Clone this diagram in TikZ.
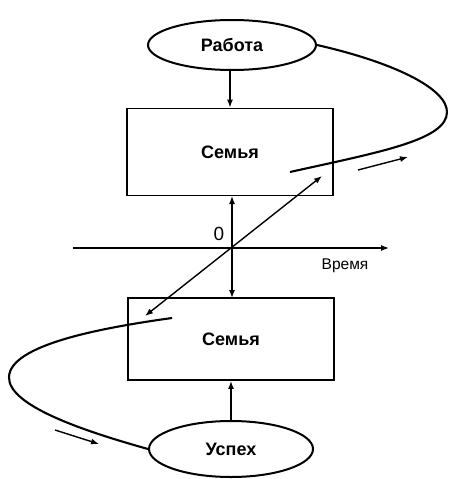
\documentclass[tikz,border=0pt]{standalone}
\usepackage{fontspec}
\setmainfont{Liberation Sans}
\usetikzlibrary{shapes.geometric,arrows.meta}
\tikzset{
  oval/.style={ellipse, draw, line width=2pt, font=\bfseries\fontsize{18}{20}\selectfont, inner sep=0pt},
  famblock/.style={rectangle, draw, line width=1.8pt, font=\bfseries\fontsize{18}{20}\selectfont, inner sep=0pt},
  conn/.style={line width=1.4pt, -{Latex[length=8pt,width=6pt]}},
  dconn/.style={line width=1.4pt, {Latex[length=8pt,width=6pt]}-{Latex[length=8pt,width=6pt]}},
  loopcurve/.style={line width=2.1pt},
}
\begin{document}
\begin{tikzpicture}[x=1pt,y=-1pt]
\useasboundingbox (0,0) rectangle (450,479);
\node[oval, minimum width=168pt, minimum height=50pt] (rab) at (232,45) {Работа};
\node[famblock, minimum width=206pt, minimum height=87pt] (s1) at (230,152) {Семья};
\node[famblock, minimum width=206pt, minimum height=82pt] (s2) at (231,339) {Семья};
\node[oval, minimum width=164pt, minimum height=56pt] (usp) at (231,449) {Успех};
\coordinate (a1) at (73,248);
\coordinate (a2) at (389,248);
\node[font=\fontsize{19}{21}\selectfont, inner sep=0pt] (zero) at (219,234) {0};
\node[font=\fontsize{15.5}{18}\selectfont, inner sep=0pt] (vrem) at (345,266) {Время};
\draw[conn] (a1) -- (a2);
\draw[conn] (rab.south -| s1.north) -- (s1.north);
\draw[conn] (usp.north) -- (usp.north |- s2.south);
\draw[dconn] (232,196) coordinate (v1) -- (232,298) coordinate (v2);
\coordinate (d1) at (145,316);
\coordinate (d2) at (322,176);
\draw[dconn] (d1) -- (d2);
\coordinate (t1) at (290,172);
\draw[loopcurve] (rab.east) .. controls (392,62) and (447,88) .. (447,112) .. controls (447,140) and (380,152) .. (t1);
\coordinate (b1) at (172,318);
\draw[loopcurve] (b1) .. controls (100,328) and (10,345) .. (9,377) .. controls (8,405) and (80,430) .. (usp.west);
\coordinate (ta1) at (358,170);
\coordinate (ta2) at (408,157);
\draw[conn] (ta1) -- (ta2);
\coordinate (ba1) at (55,430);
\coordinate (ba2) at (99,444);
\draw[conn] (ba1) -- (ba2);
\end{tikzpicture}
\end{document}
